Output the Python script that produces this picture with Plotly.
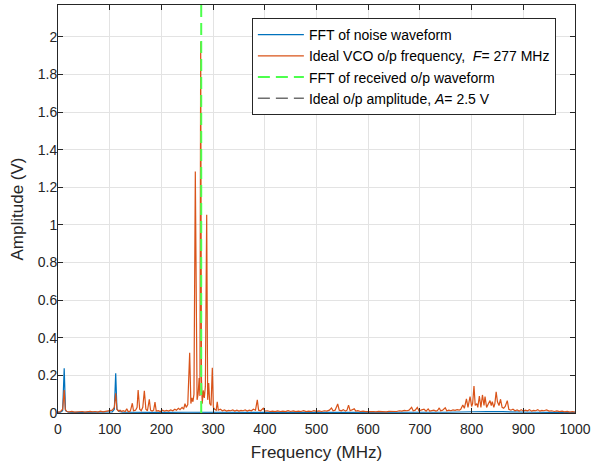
import plotly.graph_objects as go

# ---- data ----
orange_f = [0, 5, 9, 12, 14, 17, 22, 27, 32, 37, 42, 47, 52, 57, 62, 67, 72, 77, 82, 87, 92, 97,
            101, 105, 109, 111.6, 114, 117, 120, 123, 126, 130, 133, 136, 140, 143.8, 146, 150, 153,
            155, 158, 161, 164, 167, 170, 173, 176.6, 179, 182, 185, 187.6, 190, 194, 198, 202, 206,
            210, 214, 218, 222, 226, 229, 233, 236, 240, 243, 245.6, 248, 251, 254.7, 257, 259, 261,
            263, 265.6, 267.5, 269, 271, 273, 274.5, 276, 277.5, 279, 281, 283, 285, 287.6, 289.5,
            291.5, 293.5, 296, 298.5, 300.5, 303, 306, 308, 310, 314, 318, 322, 326, 330, 334, 338,
            342, 346, 350, 354, 358, 362, 366, 370, 374, 378, 382, 385.5, 388, 392, 397, 400, 405,
            410, 415, 420, 425, 430, 435, 440, 445, 450, 455, 460, 465, 470, 475, 480, 485, 490, 495,
            500, 505, 510, 515, 520, 525, 529, 532, 536, 541, 544, 548, 552, 556, 559, 562, 565, 569,
            573, 576, 580, 585, 590, 595, 600, 605, 610, 615, 620, 625, 630, 635, 640, 645, 650, 655,
            660, 665, 670, 675, 679, 684, 687, 691, 695, 698, 702, 708, 712, 716, 719, 723, 727, 731,
            734, 737.5, 740, 744, 749, 752, 756, 760, 764, 768, 772, 776, 779, 783, 786, 790, 793,
            797, 800, 802, 804.6, 807, 810, 812, 815, 818, 821, 824, 826, 829, 832, 835.6, 838, 840,
            843, 845, 847.5, 850, 853, 856, 859, 862, 865, 869, 872, 876, 880, 884, 888, 892, 896,
            900, 904, 908, 912, 916, 920, 924, 928, 932, 936, 940, 945, 950, 955, 960, 965, 970, 975,
            980, 985, 990, 995, 1000]
orange_a = [0.005, 0.008, 0.02, 0.122, 0.02, 0.008, 0.006, 0.009, 0.005, 0.007, 0.006, 0.008, 0.005,
            0.007, 0.009, 0.006, 0.008, 0.005, 0.010, 0.006, 0.008, 0.012,
            0.010, 0.015, 0.03, 0.105, 0.02, 0.01, 0.015, 0.008, 0.012, 0.008, 0.022, 0.007, 0.01,
            0.052, 0.012, 0.015, 0.03,
            0.122, 0.02, 0.012, 0.03, 0.118, 0.02, 0.012, 0.073, 0.015, 0.01, 0.015, 0.058, 0.01,
            0.012, 0.008, 0.015, 0.01,
            0.014, 0.01, 0.016, 0.012, 0.02, 0.015, 0.025, 0.018, 0.03, 0.02, 0.05, 0.03, 0.045,
            0.32, 0.05, 0.08, 0.06,
            0.1, 1.285, 0.12, 0.07, 0.1, 0.186, 0.09, 1.975, 0.18, 0.05, 0.12, 0.08, 0.14, 1.055,
            0.07,
            0.16, 0.05, 0.04, 0.24, 0.03, 0.02, 0.015, 0.06, 0.015, 0.02, 0.012, 0.016, 0.01, 0.014,
            0.012, 0.016,
            0.01, 0.015, 0.01, 0.014, 0.012, 0.016, 0.01, 0.015, 0.012, 0.02, 0.015, 0.07, 0.015,
            0.012, 0.025, 0.01, 0.012,
            0.008, 0.01, 0.007, 0.011, 0.008, 0.01, 0.007, 0.012, 0.008, 0.011, 0.007, 0.01, 0.008,
            0.012, 0.007, 0.01, 0.008, 0.012,
            0.009, 0.011, 0.008, 0.012, 0.01, 0.015, 0.027, 0.012, 0.015, 0.048, 0.015, 0.012,
            0.018, 0.01, 0.015, 0.042, 0.012, 0.015,
            0.022, 0.01, 0.012, 0.008, 0.01, 0.007, 0.009, 0.007, 0.008, 0.006, 0.009, 0.007,
            0.008, 0.006, 0.009, 0.008, 0.01, 0.008,
            0.012, 0.01, 0.014, 0.012, 0.015, 0.03, 0.012, 0.015, 0.03, 0.012, 0.015, 0.02, 0.01,
            0.022, 0.01, 0.012, 0.015, 0.01,
            0.013, 0.027, 0.012, 0.015, 0.028, 0.012, 0.015, 0.012, 0.016, 0.014, 0.018, 0.015,
            0.02, 0.042, 0.025, 0.075, 0.03,
            0.087, 0.035, 0.05, 0.144, 0.04, 0.05, 0.03, 0.09, 0.03, 0.096, 0.04, 0.087, 0.03,
            0.05, 0.066, 0.04, 0.06,
            0.03, 0.05, 0.113, 0.06, 0.04, 0.073, 0.03, 0.025, 0.035, 0.066, 0.02, 0.015, 0.02,
            0.012, 0.016, 0.01, 0.018,
            0.01, 0.015, 0.012, 0.018, 0.01, 0.014, 0.012, 0.018, 0.01, 0.014, 0.012, 0.016, 0.01,
            0.012, 0.008, 0.011, 0.007, 0.01,
            0.006, 0.009, 0.005, 0.007, 0.005]

blue_f = [0, 5, 9, 12, 14.5, 20, 40, 60, 80, 100, 105, 109, 111.6, 114, 118, 125, 150, 200, 250,
          300, 350, 400, 450, 500, 550, 600, 650, 700, 750, 780, 800, 830, 860, 880, 920, 960, 1000]
blue_a = [0.003, 0.004, 0.012, 0.238, 0.012, 0.004, 0.003, 0.004, 0.003, 0.004, 0.006, 0.02,
          0.211, 0.02, 0.008, 0.004, 0.003, 0.003, 0.004, 0.003, 0.003, 0.003, 0.003, 0.003,
          0.004, 0.003, 0.003, 0.004, 0.004, 0.006, 0.008, 0.008, 0.007, 0.005, 0.004, 0.003,
          0.003]

vco_freq = 277      # MHz
ideal_amp = 2.5     # V
x_ticks = [0, 100, 200, 300, 400, 500, 600, 700, 800, 900, 1000]
y_ticks = [0, 0.2, 0.4, 0.6, 0.8, 1, 1.2, 1.4, 1.6, 1.8, 2]

FONT = "Liberation Sans, Arial, Helvetica, sans-serif"
AXC = "#262626"

fig = go.Figure()
fig.add_trace(go.Scatter(x=blue_f, y=blue_a, mode="lines", name="FFT of noise waveform",
                         line=dict(color="#0072BD", width=1.2)))
fig.add_trace(go.Scatter(x=orange_f, y=orange_a, mode="lines",
                         name="Ideal VCO o/p frequency,  <i>F</i>= 277 MHz",
                         line=dict(color="#D95319", width=1.2)))
fig.add_trace(go.Scatter(x=[vco_freq, vco_freq], y=[0, 3], mode="lines",
                         name="FFT of received o/p waveform",
                         line=dict(color="#4DFF4D", width=2, dash="12px,6px")))
fig.add_trace(go.Scatter(x=[0, 1000], y=[ideal_amp, ideal_amp], mode="lines",
                         name="Ideal o/p amplitude, <i>A</i>= 2.5 V",
                         line=dict(color="#6E6E6E", width=1.5, dash="12px,6px")))

axis_common = dict(showline=True, linecolor=AXC, linewidth=1, mirror="ticks",
                   ticks="inside", ticklen=5, tickcolor=AXC, showgrid=True,
                   gridcolor="#E3E3E3", gridwidth=1, zeroline=False,
                   tickfont=dict(family=FONT, size=14, color=AXC))

fig.update_xaxes(range=[0, 1000], tickvals=x_ticks, ticktext=[str(v) for v in x_ticks],
                 ticklabelstandoff=3,
                 title=dict(text="Frequency (MHz)", font=dict(family=FONT, size=17, color=AXC),
                            standoff=10),
                 **axis_common)
fig.update_yaxes(range=[0, 2.17], tickvals=y_ticks, ticktext=[f"{v:g}" for v in y_ticks],
                 ticklabelstandoff=-3,
                 title=dict(text="Amplitude (V)", font=dict(family=FONT, size=17, color=AXC),
                            standoff=9),
                 **axis_common)

fig.update_layout(
    width=595, height=470,
    margin=dict(l=58, r=20, t=5, b=57, autoexpand=False),
    paper_bgcolor="white", plot_bgcolor="white",
    font=dict(family=FONT, color=AXC),
    legend=dict(x=0.375, y=0.968, xanchor="left", yanchor="top",
                bgcolor="white", bordercolor=AXC, borderwidth=1,
                font=dict(family=FONT, size=14, color="#000000"),
                itemwidth=46, tracegroupgap=0),
    showlegend=True,
)

fig.write_html("out.html", config={"displayModeBar": False},
               post_script="document.body.style.margin='0';document.body.style.padding='0';")
